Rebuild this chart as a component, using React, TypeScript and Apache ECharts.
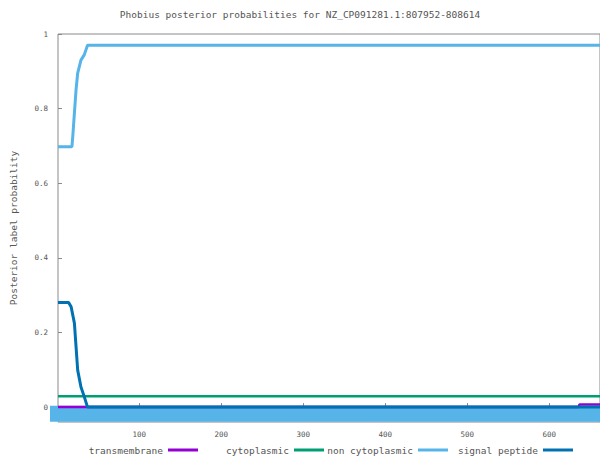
import React, { useEffect, useRef } from "react";
import * as echarts from "echarts";

const titleText = "Phobius posterior probabilities for NZ_CP091281.1:807952-808614";
const yName = "Posterior label probability";
const xTicks = [100, 200, 300, 400, 500, 600];
const yTicks = [0, 0.2, 0.4, 0.6, 0.8, 1];

const tmX = [1, 636, 637, 662];
const tmY = [0, 0, 0.007, 0.007];
const cytoX = [1, 662];
const cytoY = [0.029, 0.029];
const ncX = [1, 18, 19, 21, 23, 25, 29, 33, 37, 662];
const ncY = [0.698, 0.698, 0.725, 0.788, 0.85, 0.895, 0.93, 0.944, 0.97, 0.97];
const spX = [1, 14, 17, 21, 23, 25, 29, 33, 37, 662];
const spY = [0.28, 0.28, 0.269, 0.225, 0.162, 0.099, 0.054, 0.028, 0.0, 0.0];
const bandX = [1, 662];
const bandY = [-0.018, -0.018];

const legendNames = ["transmembrane", "cytoplasmic", "non cytoplasmic", "signal peptide"];
const colors = ["#9400d3", "#009e73", "#56b4e9", "#0072b2"];

const zip = (xs: number[], ys: number[]) => xs.map((x, i) => [x, ys[i]]);

export default function App() {
  const ref = useRef<HTMLDivElement>(null);
  useEffect(() => {
    if (!ref.current) return;
    const chart = echarts.init(ref.current, null, { renderer: "svg" });
    const mono = "DejaVu Sans Mono";
    const legendLayout = [
      { textRight: 163, lineX: 168 },
      { textRight: 289, lineX: 294 },
      { textRight: 413, lineX: 418 },
      { textRight: 538, lineX: 543 },
    ];
    const graphics: any[] = [];
    legendNames.forEach((n, i) => {
      const l = legendLayout[i];
      graphics.push({
        type: "text",
        x: l.textRight,
        y: 445,
        style: {
          text: n,
          fontFamily: mono,
          fontSize: 9.5,
          fill: "#555",
          align: "right",
          verticalAlign: "top",
        },
      });
      graphics.push({
        type: "line",
        shape: { x1: l.lineX, y1: 450, x2: l.lineX + 30, y2: 450 },
        style: { stroke: colors[i], lineWidth: 3 },
      });
    });
    chart.setOption({
      animation: false,
      title: {
        text: titleText,
        left: 295,
        textAlign: "center",
        top: 4,
        textStyle: { fontFamily: mono, fontSize: 9.5, fontWeight: "normal", color: "#555" },
      },
      grid: {
        left: 55,
        top: 34,
        width: 547,
        height: 388,
        show: true,
        borderColor: "#8a8a8a",
        borderWidth: 1,
        containLabel: false,
      },
      xAxis: {
        type: "value",
        min: 1,
        max: 662,
        splitLine: { show: false },
        axisLine: { show: false },
        axisTick: { show: true, inside: true, length: 4, lineStyle: { color: "#8a8a8a" }, customValues: xTicks },
        axisLabel: {
          customValues: xTicks,
          fontFamily: mono,
          fontSize: 7.5,
          color: "#555",
          margin: 8,
        },
      },
      yAxis: {
        type: "value",
        min: -0.04,
        max: 1,
        name: yName,
        nameLocation: "middle",
        nameGap: 40,
        nameTextStyle: { fontFamily: mono, fontSize: 9.5, color: "#555" },
        splitLine: { show: false },
        axisLine: { show: false },
        axisTick: { show: true, inside: true, length: 4, lineStyle: { color: "#8a8a8a" }, customValues: yTicks },
        axisLabel: {
          customValues: yTicks,
          fontFamily: mono,
          fontSize: 7.5,
          color: "#555",
          margin: 10,
          formatter: (v: number) => (v === 0 ? "0" : v === 1 ? "1" : v.toFixed(1)),
        },
      },
      graphic: graphics,
      series: [
        {
          name: "topology",
          type: "line",
          data: zip(bandX, bandY),
          symbol: "none",
          clip: false,
          lineStyle: { color: colors[2], width: 16, cap: "square" },
          z: 1,
        },
        {
          name: legendNames[0],
          type: "line",
          data: zip(tmX, tmY),
          symbol: "none",
          lineStyle: { color: colors[0], width: 2.5 },
          z: 2,
        },
        {
          name: legendNames[1],
          type: "line",
          data: zip(cytoX, cytoY),
          symbol: "none",
          lineStyle: { color: colors[1], width: 2.5 },
          z: 3,
        },
        {
          name: legendNames[2],
          type: "line",
          data: zip(ncX, ncY),
          symbol: "none",
          lineStyle: { color: colors[2], width: 3 },
          z: 4,
        },
        {
          name: legendNames[3],
          type: "line",
          data: zip(spX, spY),
          symbol: "none",
          lineStyle: { color: colors[3], width: 3 },
          z: 5,
        },
      ],
    });
    return () => chart.dispose();
  }, []);
  return (
    <div
      ref={ref}
      style={{ position: "fixed", left: 0, top: 0, width: 600, height: 457, background: "#fff" }}
    />
  );
}
